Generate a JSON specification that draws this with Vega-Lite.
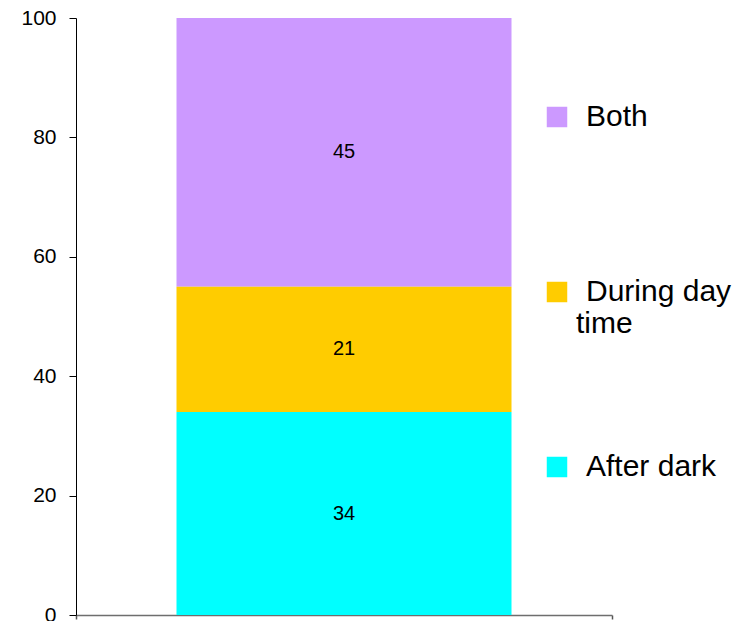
{
  "$schema": "https://vega.github.io/schema/vega-lite/v6.json",
  "width": 536,
  "height": 597,
  "autosize": "none",
  "padding": {"left": 76, "top": 18, "right": 144, "bottom": 6},
  "background": "white",
  "config": {"view": {"stroke": null}, "font": "Liberation Sans"},
  "data": {"values": [
    {"group": "All", "category": "Both", "value": 45, "order": 3},
    {"group": "All", "category": "During day time", "value": 21, "order": 2},
    {"group": "All", "category": "After dark", "value": 34, "order": 1}
  ]},
  "encoding": {
    "x": {
      "field": "group", "type": "nominal",
      "scale": {"paddingInner": 0, "paddingOuter": 0},
      "axis": {"title": null, "labels": false, "ticks": true, "tickBand": "extent", "tickSize": 4, "tickColor": "#555555", "tickWidth": 1.5, "domainColor": "#6e6e6e", "domainWidth": 1.5, "grid": false}
    }
  },
  "layer": [
    {
      "mark": {"type": "bar", "width": {"band": 0.625}},
      "encoding": {
        "y": {
          "field": "value", "type": "quantitative", "stack": "zero",
          "scale": {"domain": [0, 100]},
          "axis": {"title": null, "values": [0, 20, 40, 60, 80, 100], "grid": false, "domainColor": "black", "tickColor": "black", "tickSize": 7, "labelFontSize": 21, "labelColor": "black", "labelPadding": 13, "labelFont": "Liberation Sans"}
        },
        "color": {
          "field": "category", "type": "nominal",
          "scale": {"domain": ["Both", "During day time", "After dark"], "range": ["#CC99FF", "#FFCC00", "#00FFFF"]},
          "legend": {
            "orient": "none", "legendX": 466, "legendY": 84, "title": null, "padding": 0,
            "symbolType": "square", "symbolSize": 420, "symbolStrokeWidth": 0, "symbolOpacity": 1,
            "labelFontSize": 30, "labelFont": "Liberation Sans", "labelColor": "black", "labelOffset": 4, "labelLimit": 0,
            "rowPadding": 113,
            "labelExpr": "datum.label == 'During day time' ? ['\u200b\u2004During day', 'time'] : ['\u200b\u2004' + datum.label, '\u2800']"
          }
        },
        "order": {"field": "order"}
      }
    },
    {
      "mark": {"type": "text", "fontSize": 20, "color": "black", "font": "Liberation Sans"},
      "encoding": {
        "y": {"field": "value", "type": "quantitative", "stack": "zero", "bandPosition": 0.5},
        "text": {"field": "value", "type": "quantitative"},
        "order": {"field": "order"}
      }
    }
  ]
}
